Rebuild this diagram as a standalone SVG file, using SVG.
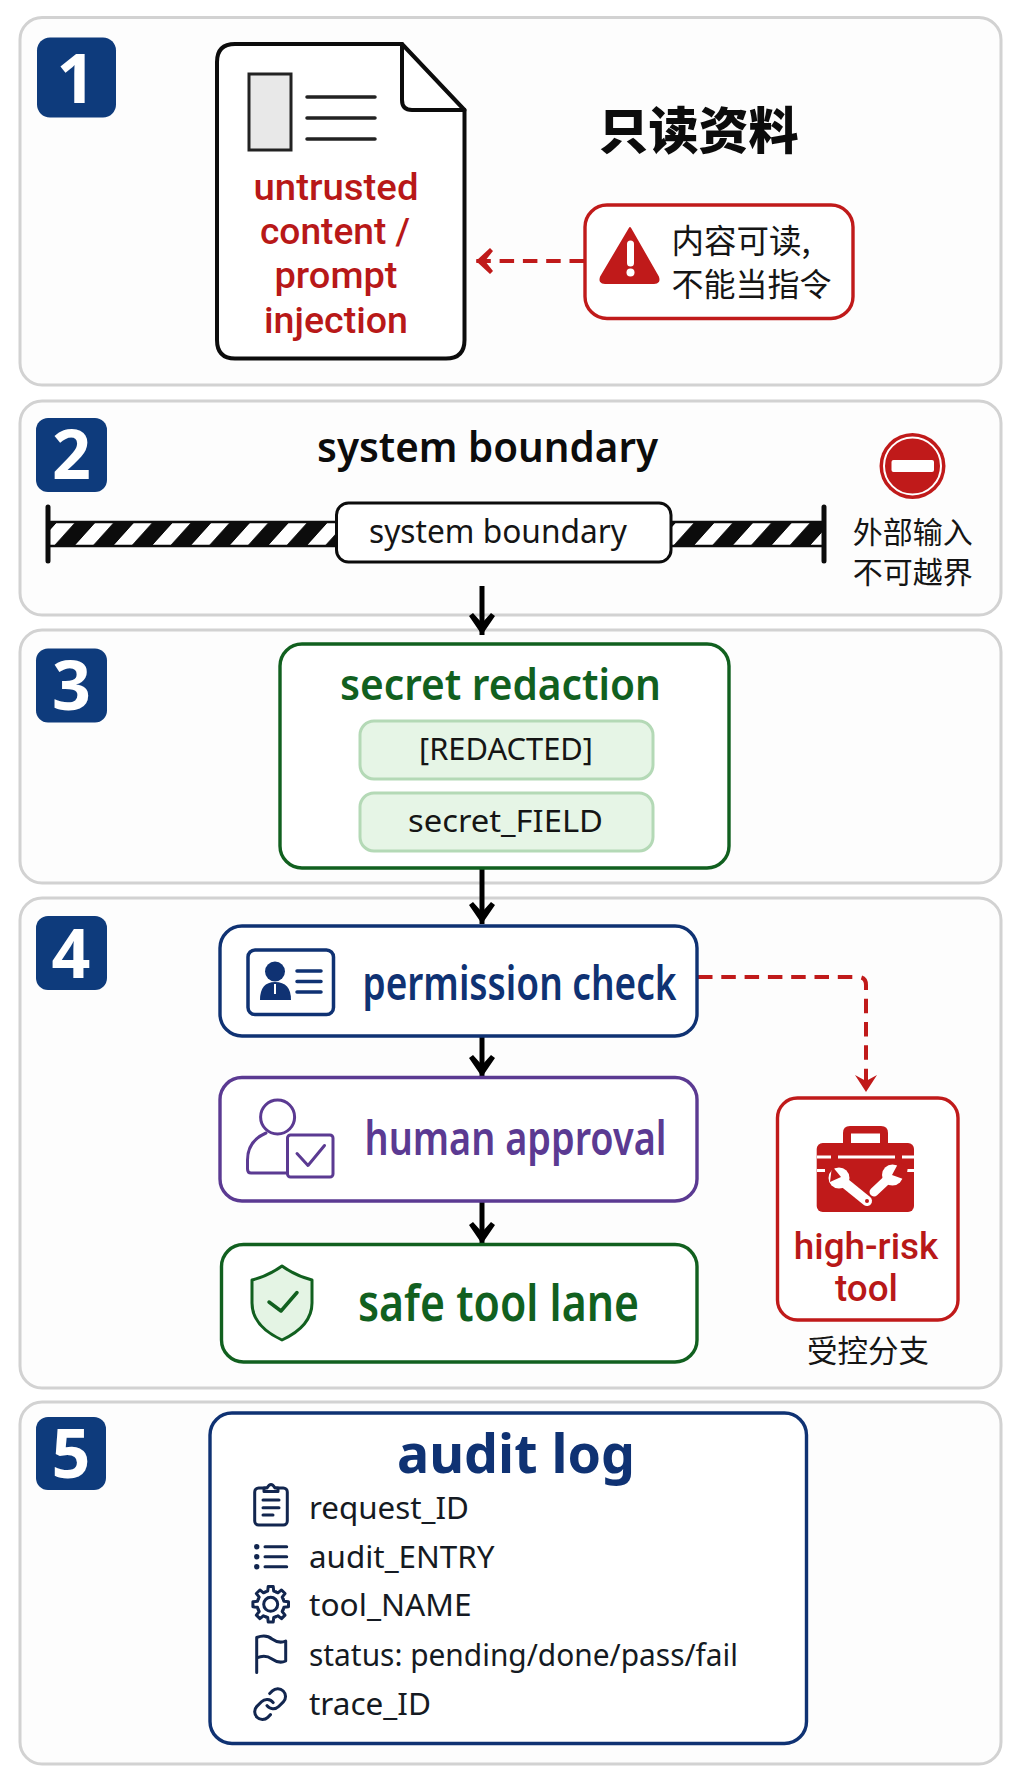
<svg xmlns="http://www.w3.org/2000/svg" xmlns:xlink="http://www.w3.org/1999/xlink" width="1024" height="1792" viewBox="0 0 1024 1792">
<defs>
<style>
text{font-family:"Noto Sans","Noto Sans CJK SC",sans-serif;text-anchor:middle}
.cjk{font-family:"Noto Sans CJK SC","Noto Sans",sans-serif}
.panel{fill:#fdfdfd;stroke:#d2d2d2;stroke-width:3}
.badge{fill:#0e3b7c}
.num{fill:#fff;font-weight:700;font-size:68px}
.ink{fill:none;stroke-linecap:round;stroke-linejoin:round}
.wire{fill:none;stroke:#000;stroke-width:5}
.risk{fill:none;stroke:#c01a1a;stroke-width:4;stroke-dasharray:14.5 8.8}
.box{fill:#fff;stroke-width:3.4}
.navy{stroke:#0f3273}.purple{stroke:#5b3a92}.green{stroke:#11601f}.red{stroke:#c01a1a}
.pill{fill:#e6f5e6;stroke:#b4d9b6;stroke-width:3}
.item{font-size:31px;fill:#151a22;text-anchor:start}
.fr{fill:#c01a1a}.fn{fill:#0f3273}.fp{fill:#5b3a92}.fg{fill:#11601f}
.big{font-size:47px;font-weight:600}
.rt{font-family:Roboto,"Noto Sans",sans-serif;font-size:37px;font-weight:500;fill:#b81818}
</style>
<pattern id="hazard" width="38.7" height="24" patternUnits="userSpaceOnUse" patternTransform="translate(96 522) skewX(-42)">
<rect width="38.7" height="24" fill="#0c0c0c"/><rect width="18" height="24" fill="#fff"/>
</pattern>
<marker id="ab" viewBox="0 0 26 20" refX="25" refY="10" markerWidth="26" markerHeight="26" markerUnits="userSpaceOnUse" orient="auto">
<path d="M25 10 L6 23 L3 19 L13 10 L3 1 L6 -3 Z" fill="#000"/></marker>
<marker id="ar" viewBox="0 0 20 26" refX="19" refY="13" markerWidth="20" markerHeight="26" markerUnits="userSpaceOnUse" orient="auto">
<path d="M19 13 L5 26 L2 23 L10 13 L2 3 L5 0 Z" fill="#c01a1a"/></marker>
<marker id="ar2" viewBox="0 0 20 24" refX="19" refY="12" markerWidth="20" markerHeight="24" markerUnits="userSpaceOnUse" orient="auto">
<path d="M19 12 L2 23 L8 12 L2 1 Z" fill="#c01a1a"/></marker>
<path id="tooth" d="M-5.17 -12.47 L-3 -13.2 L-2.5 -17.8 L2.5 -17.8 L3 -13.2 L5.17 -12.47" fill="none" stroke="#12264f" stroke-width="3" stroke-linejoin="round" stroke-linecap="round"/>
</defs>
<rect width="1024" height="1792" fill="#fff"/>

<g id="panels">
<rect class="panel" x="20" y="17.5" width="981" height="367.5" rx="22"/>
<rect class="panel" x="20" y="401" width="981" height="214" rx="22"/>
<rect class="panel" x="20" y="630" width="981" height="253" rx="22"/>
<rect class="panel" x="20" y="898" width="981" height="490" rx="22"/>
<rect class="panel" x="20" y="1402" width="981" height="362" rx="22"/>
</g>

<g id="badge-1"><rect class="badge" x="37" y="37.5" width="79" height="80" rx="13"/><text class="num" x="76" y="103">1</text></g>
<g id="badge-2"><rect class="badge" x="36" y="418" width="71" height="74" rx="12"/><text class="num" x="71.5" y="479">2</text></g>
<g id="badge-3"><rect class="badge" x="36" y="648.5" width="71" height="74" rx="12"/><text class="num" x="71.5" y="710">3</text></g>
<g id="badge-4"><rect class="badge" x="36" y="916" width="71" height="74" rx="12"/><text class="num" x="71" y="978">4</text></g>
<g id="badge-5"><rect class="badge" x="36" y="1417" width="70" height="73" rx="12"/><text class="num" x="71" y="1478">5</text></g>

<g id="connectors">
<path class="risk" d="M584 261 H476" marker-end="url(#ar)"/>
<path class="wire" d="M482 586 V635" marker-end="url(#ab)"/>
<path class="wire" d="M482 868 V924" marker-end="url(#ab)"/>
<path class="wire" d="M482 1036 V1077" marker-end="url(#ab)"/>
<path class="wire" d="M482 1201 V1244" marker-end="url(#ab)"/>
<path class="risk" d="M698 977 H858 Q866 977 866 985 V1092" marker-end="url(#ar2)"/>
</g>

<g id="read-only-doc">
<path d="M235 44 H402 L464.5 110 V340 Q464.5 358.5 446 358.5 H235 Q217 358.5 217 340 V62 Q217 44 235 44 Z" fill="#fff" stroke="#0c0c0c" stroke-width="4" stroke-linejoin="round"/>
<path class="ink" d="M402 44 V100 Q402 110 412 110 H464.5" stroke="#0c0c0c" stroke-width="4"/>
<rect x="249" y="74" width="42" height="76" fill="#e8e8e8" stroke="#222" stroke-width="3"/>
<path class="ink" d="M307 97 H375 M307 118 H375 M307 139 H375" stroke="#222" stroke-width="3.5"/>
<text class="rt" x="336" y="200" textLength="165" lengthAdjust="spacingAndGlyphs">untrusted</text>
<text class="rt" x="335" y="244" textLength="150" lengthAdjust="spacingAndGlyphs">content /</text>
<text class="rt" x="336" y="288" textLength="123" lengthAdjust="spacingAndGlyphs">prompt</text>
<text class="rt" x="336" y="333" textLength="144" lengthAdjust="spacingAndGlyphs">injection</text>
</g>
<g id="read-only-title"><text class="cjk" x="698.5" y="149" font-size="50" font-weight="900" fill="#0c0c0c">只读资料</text></g>
<g id="warning">
<rect class="box red" x="585" y="205" width="268" height="113.5" rx="22"/>
<path d="M630 228 L658 277 Q660 283 654 283 H605 Q599 283 601 277 Z" fill="#c01a1a" stroke="#c01a1a" stroke-width="2" stroke-linejoin="round"/>
<path d="M630.5 244 V263" stroke="#fff" stroke-width="7" stroke-linecap="round"/><circle cx="630.5" cy="272.5" r="4" fill="#fff"/>
<text class="cjk" x="671.5" y="253" font-size="32.5" fill="#151515" style="text-anchor:start">内容可读,</text>
<text class="cjk" x="671.5" y="296" font-size="32" fill="#151515" style="text-anchor:start">不能当指令</text>
</g>

<g id="boundary">
<text x="487.5" y="462" font-size="41" font-weight="600" fill="#0c0c0c" textLength="341" lengthAdjust="spacingAndGlyphs">system boundary</text>
<rect x="48" y="522" width="776" height="24" fill="url(#hazard)" stroke="#0c0c0c" stroke-width="2.5"/>
<path d="M48 507 V561 M824 507 V561" stroke="#0c0c0c" stroke-width="5" stroke-linecap="round"/>
<rect x="336.5" y="503" width="334.5" height="59" rx="12" fill="#fff" stroke="#0c0c0c" stroke-width="3"/>
<text x="498" y="543" font-size="33" fill="#151515" textLength="258" lengthAdjust="spacingAndGlyphs">system boundary</text>
</g>
<g id="no-entry">
<circle cx="912.5" cy="466" r="33" fill="#c01a1a"/><circle cx="912.5" cy="466" r="28.5" fill="none" stroke="#fff" stroke-width="2"/>
<rect x="891.5" y="460" width="42.5" height="12" rx="2" fill="#fff"/>
<text class="cjk" x="912.7" y="543" font-size="30" fill="#151515">外部输入</text>
<text class="cjk" x="912.7" y="583" font-size="30" fill="#151515">不可越界</text>
</g>

<g id="secret-redaction">
<rect class="box green" x="280" y="644" width="449" height="224" rx="22"/>
<text class="fg" x="500.5" y="700" font-size="43" font-weight="600" textLength="321" lengthAdjust="spacingAndGlyphs">secret redaction</text>
<rect class="pill" x="360" y="721" width="293" height="58" rx="14"/>
<text x="506" y="760" font-size="31" fill="#151515" textLength="174" lengthAdjust="spacingAndGlyphs">[REDACTED]</text>
<rect class="pill" x="360" y="793" width="293" height="58" rx="14"/>
<text x="505.5" y="832" font-size="31" fill="#151515" textLength="195" lengthAdjust="spacingAndGlyphs">secret_FIELD</text>
</g>

<g id="permission-check">
<rect class="box navy" x="220" y="926" width="477" height="110" rx="22"/>
<rect x="248" y="950" width="85.5" height="64.5" rx="7" fill="#fff" stroke="#0f3273" stroke-width="3.5"/>
<circle cx="275" cy="971.5" r="10" fill="#0f3273"/><path d="M260 1000 Q260 982 275 982 Q291 982 291 1000 Z" fill="#0f3273"/>
<path d="M275 984 V994" stroke="#fff" stroke-width="2"/>
<path d="M297 971 H321 M297 981.5 H321 M297 992 H321" stroke="#0f3273" stroke-width="3.5" stroke-linecap="round"/>
<text class="fn big" x="519.5" y="1000" textLength="314" lengthAdjust="spacingAndGlyphs">permission check</text>
</g>
<g id="human-approval">
<rect class="box purple" x="220" y="1077.5" width="477" height="123.5" rx="22"/>
<path class="ink" d="M286 1173 H251 Q247.5 1173 247.5 1169 V1160 Q247.5 1141 266 1133" stroke="#5b3a92" stroke-width="3"/>
<circle cx="277.6" cy="1117" r="17" fill="#fff" stroke="#5b3a92" stroke-width="3"/>
<rect x="287.5" y="1135" width="45.5" height="42" rx="3" fill="#fff" stroke="#5b3a92" stroke-width="3"/>
<path class="ink" d="M297 1153.5 L308 1165.5 L324.5 1145.5" stroke="#5b3a92" stroke-width="3"/>
<text class="fp big" x="515.5" y="1154.5" textLength="302" lengthAdjust="spacingAndGlyphs">human approval</text>
</g>
<g id="safe-tool-lane">
<rect class="box green" x="221.5" y="1244.5" width="475.5" height="117.5" rx="22"/>
<path d="M282 1266 Q296 1276 312 1280 V1303 Q312 1326 282 1340 Q252 1326 252 1303 V1280 Q268 1276 282 1266 Z" fill="#e4f4e4" stroke="#11601f" stroke-width="3" stroke-linejoin="round"/>
<path class="ink" d="M269 1302 L281 1311 L297 1292.5" stroke="#11601f" stroke-width="3.5"/>
<text class="fg" x="498.5" y="1321" font-size="50" font-weight="600" textLength="281" lengthAdjust="spacingAndGlyphs">safe tool lane</text>
</g>
<g id="high-risk-tool">
<rect class="box red" x="777.5" y="1098" width="180.5" height="222" rx="20"/>
<path fill-rule="evenodd" d="M850 1126 H881 Q888 1126 888 1133 V1144 H843 V1133 Q843 1126 850 1126 Z M851 1133.5 V1144 H880 V1133.5 Z" fill="#c01a1a"/>
<rect x="816.7" y="1143" width="97.3" height="69" rx="6" fill="#c01a1a"/>
<path d="M817 1157 H831 M838 1157 H895 M902 1157 H914 M817 1170.5 H825 M907 1170.5 H914" stroke="#fff" stroke-width="3"/>
<path d="M846 1184 L867 1201" stroke="#fff" stroke-width="10" stroke-linecap="round"/>
<path d="M874 1192 L891 1176" stroke="#fff" stroke-width="9" stroke-linecap="round"/>
<circle cx="839" cy="1178" r="10.5" fill="#fff"/><path d="M832 1166 L841 1177 L830 1182" fill="#c01a1a"/>
<circle cx="892.5" cy="1175" r="10.5" fill="#fff"/><path d="M899 1162 L892 1175 L906 1180 L908 1166 Z" fill="#c01a1a"/>
<circle cx="867" cy="1201" r="2" fill="#c01a1a"/>
<text class="rt" x="866" y="1258.5" textLength="144.5" lengthAdjust="spacingAndGlyphs">high-risk</text>
<text class="rt" x="866.5" y="1301" textLength="63" lengthAdjust="spacingAndGlyphs">tool</text>
<text class="cjk" x="868" y="1362" font-size="30.5" fill="#151515">受控分支</text>
</g>

<g id="audit-log">
<rect class="box navy" x="210" y="1413" width="596.5" height="330.5" rx="22"/>
<text class="fn" x="516" y="1472.5" font-size="54" font-weight="700" textLength="238" lengthAdjust="spacingAndGlyphs">audit log</text>
<g class="ink" stroke="#12264f" stroke-width="3">
<rect x="254.7" y="1488" width="32.6" height="37" rx="4"/><path d="M264 1491.5 V1488 H267 Q271 1481 275 1488 H278 V1491.5 Z" fill="#fff"/><path d="M263 1500 H279 M263 1507.7 H279 M263 1515 H273"/>
<path d="M265 1546.7 H286.7 M265 1556.7 H286.7 M265 1566.7 H286.7"/>
<circle cx="270.7" cy="1604.3" r="7"/>
<path d="M256.7 1672.5 V1637.5 Q266 1634 272 1639 Q279 1644 285.7 1641 V1661 Q279 1664 272 1659 Q265 1654 256.7 1658"/>
<path transform="translate(251.5 1685.5) scale(1.55)" stroke-width="1.95" d="M10 13a5 5 0 0 0 7.54.54l3-3a5 5 0 0 0-7.07-7.07l-1.72 1.71 M14 11a5 5 0 0 0-7.54-.54l-3 3a5 5 0 0 0 7.07 7.07l1.71-1.71"/>
</g>
<circle cx="256.7" cy="1546.7" r="2.7" fill="#12264f"/><circle cx="256.7" cy="1556.7" r="2.7" fill="#12264f"/><circle cx="256.7" cy="1566.7" r="2.7" fill="#12264f"/>
<use xlink:href="#tooth" href="#tooth" transform="translate(270.7 1604.3)"/>
<use xlink:href="#tooth" href="#tooth" transform="translate(270.7 1604.3) rotate(45)"/>
<use xlink:href="#tooth" href="#tooth" transform="translate(270.7 1604.3) rotate(90)"/>
<use xlink:href="#tooth" href="#tooth" transform="translate(270.7 1604.3) rotate(135)"/>
<use xlink:href="#tooth" href="#tooth" transform="translate(270.7 1604.3) rotate(180)"/>
<use xlink:href="#tooth" href="#tooth" transform="translate(270.7 1604.3) rotate(225)"/>
<use xlink:href="#tooth" href="#tooth" transform="translate(270.7 1604.3) rotate(270)"/>
<use xlink:href="#tooth" href="#tooth" transform="translate(270.7 1604.3) rotate(315)"/>
<text class="item" x="309" y="1519" textLength="160" lengthAdjust="spacingAndGlyphs">request_ID</text>
<text class="item" x="309" y="1568" textLength="185.5" lengthAdjust="spacingAndGlyphs">audit_ENTRY</text>
<text class="item" x="309" y="1616" textLength="162.5" lengthAdjust="spacingAndGlyphs">tool_NAME</text>
<text class="item" x="309" y="1666" textLength="429" lengthAdjust="spacingAndGlyphs">status: pending/done/pass/fail</text>
<text class="item" x="309" y="1715" textLength="122" lengthAdjust="spacingAndGlyphs">trace_ID</text>
</g>
</svg>
